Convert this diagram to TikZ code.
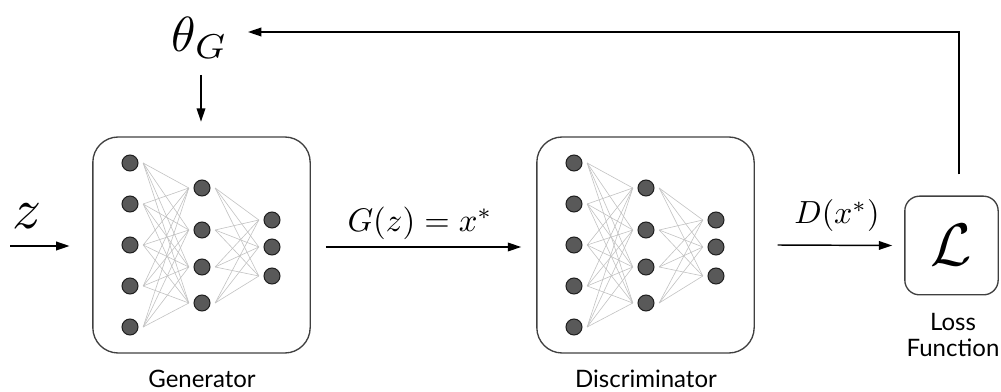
\documentclass[tikz,border=0pt]{standalone}
\usepackage{fontspec}
\setsansfont{Lato}
\usetikzlibrary{arrows.meta}
\tikzset{
  netbox/.style={draw=black!75, line width=1pt, rounded corners=19pt,
    minimum width=163pt, minimum height=162pt, inner sep=0pt},
  lossbox/.style={draw=black!75, line width=1pt, rounded corners=11pt,
    minimum width=70pt, minimum height=74pt, inner sep=0pt},
  neuron/.style={circle, fill=black!65, draw=black!88, line width=0.75pt,
    minimum size=12pt, inner sep=0pt},
  link/.style={draw=black!24, line width=0.45pt},
  flow/.style={-{Triangle[length=10pt,width=6.5pt]}, line width=1.1pt, draw=black},
  caption/.style={font=\sffamily\fontsize{18}{19}\selectfont, align=center},
  mathlbl/.style={inner sep=0pt}
}
\newcommand\ganNet[2]{%
  % #1 prefix, #2 centre x
  \foreach \i/\yy in {1/-82,2/-41,3/0,4/41,5/82}
    \node[neuron] (#1a\i) at (#2-71.5,245+\yy) {};
  \foreach \i/\yy in {1/-57,2/-15,3/22,4/58}
    \node[neuron] (#1b\i) at (#2+0.5,245+\yy) {};
  \foreach \i/\yy in {1/-25,2/2,3/31}
    \node[neuron] (#1c\i) at (#2+70.5,245+\yy) {};
  \foreach \i in {1,...,5}
    \foreach \j in {1,...,4}
      \draw[link] ([xshift=3.5pt]#1a\i.east) -- ([xshift=-3.5pt]#1b\j.west);
  \foreach \i in {1,...,4}
    \foreach \j in {1,...,3}
      \draw[link] ([xshift=3.5pt]#1b\i.east) -- ([xshift=-3.5pt]#1c\j.west);
}
\begin{document}
\begin{tikzpicture}[x=0.75pt,y=-0.75pt]
\useasboundingbox (0,0) rectangle (1001,392);

% boxes
\node[netbox] (gen) at (201.5,245) {};
\node[netbox] (disc) at (645.5,245) {};
\node[lossbox] (loss) at (951.5,245.5) {\scalebox{4.5}{$\mathcal{L}$}};

% networks
\ganNet{g}{201.5}
\ganNet{d}{645.5}

% captions
\node[caption] (gencap) at (202,379) {Generator};
\node[caption] (disccap) at (646,379) {Discriminator};
\node[caption] (losscap) at (953,335) {Loss\\[0pt]Function};

% input z
\node[inner sep=0pt] (z) at (27,216) {\scalebox{4.3}{$z$}};
\coordinate (zin) at (10,246);
\draw[flow] (zin) -- ([xshift=-17pt]gen.west |- zin);

% theta
\node[inner sep=0pt] (theta) at (200,38) {\scalebox{3.7}{$\theta_G$}};
\coordinate (thetaout) at (201,75);
\draw[flow] (thetaout) -- ([yshift=11pt]gen.north -| thetaout);

% G(z) = x*
\node[mathlbl] (glbl) at (420,223) {\scalebox{2.45}{$G(z)=x^*$}};
\draw[flow] ([shift={(15,2)}]gen.east) -- ([shift={(-15,2)}]disc.west);

% D(x*)
\node[mathlbl] (dlbl) at (837,216) {\scalebox{2.4}{$D(x^*)$}};
\draw[flow] ([xshift=17pt]disc.east) -- ([xshift=-9pt]loss.west);

% feedback
\coordinate (fbtop) at (959,32);
\coordinate (fbend) at (248,32);
\draw[flow] ([shift={(7.5,-21)}]loss.north) -- (fbtop) -- (fbend);
\end{tikzpicture}
\end{document}
